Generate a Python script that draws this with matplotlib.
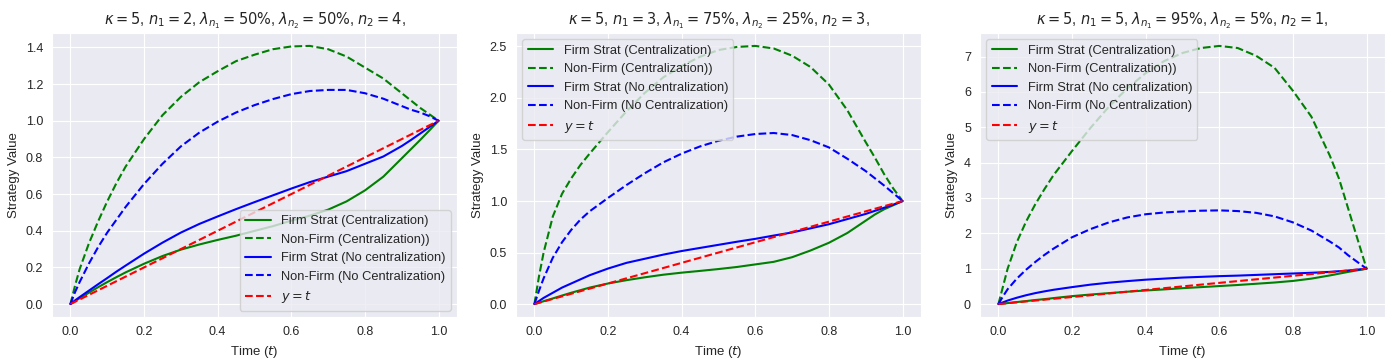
import matplotlib
matplotlib.use("Agg")
import matplotlib.pyplot as plt
import seaborn as sns

sns.set_style("darkgrid")
plt.rcParams['font.family'] = ['Liberation Sans', 'DejaVu Sans']

t = [0.0, 0.0125, 0.025, 0.05, 0.075, 0.1, 0.125, 0.15, 0.2, 0.25, 0.3, 0.35, 0.4, 0.45,
     0.5, 0.55, 0.6, 0.65, 0.7, 0.75, 0.8, 0.85, 0.9, 0.925, 0.95, 0.975, 1.0]

titles = [
    r"$\kappa = 5$, $n_1 = 2$, $\lambda_{n_1} = 50\%$, $\lambda_{n_2} = 50\%$, $n_2 = 4$,",
    r"$\kappa = 5$, $n_1 = 3$, $\lambda_{n_1} = 75\%$, $\lambda_{n_2} = 25\%$, $n_2 = 3$,",
    r"$\kappa = 5$, $n_1 = 5$, $\lambda_{n_1} = 95\%$, $\lambda_{n_2} = 5\%$, $n_2 = 1$,",
]

# Panel 1
firm_c1 = [0.0, 0.016, 0.032, 0.062, 0.092, 0.12, 0.147, 0.173, 0.22, 0.262, 0.297, 0.325, 0.35, 0.373,
           0.399, 0.425, 0.455, 0.482, 0.515, 0.56, 0.62, 0.695, 0.795, 0.845, 0.895, 0.947, 1.0]
nonfirm_c1 = [0.0, 0.10, 0.19, 0.33, 0.45, 0.56, 0.66, 0.75, 0.90, 1.03, 1.13, 1.21, 1.27, 1.325,
              1.36, 1.39, 1.405, 1.408, 1.39, 1.35, 1.29, 1.23, 1.15, 1.11, 1.07, 1.035, 1.0]
firm_nc1 = [0.0, 0.02, 0.038, 0.073, 0.108, 0.142, 0.177, 0.21, 0.275, 0.335, 0.39, 0.437, 0.478, 0.518,
            0.556, 0.593, 0.63, 0.665, 0.695, 0.725, 0.765, 0.805, 0.862, 0.895, 0.93, 0.965, 1.0]
nonfirm_nc1 = [0.0, 0.065, 0.12, 0.22, 0.31, 0.39, 0.46, 0.53, 0.655, 0.765, 0.86, 0.935, 0.995, 1.045,
               1.085, 1.118, 1.145, 1.162, 1.168, 1.168, 1.15, 1.12, 1.08, 1.06, 1.045, 1.025, 1.0]

# Panel 2
firm_c2 = [0.0, 0.014, 0.028, 0.055, 0.083, 0.11, 0.135, 0.16, 0.2, 0.232, 0.26, 0.285, 0.305, 0.322,
           0.34, 0.36, 0.385, 0.41, 0.455, 0.52, 0.595, 0.69, 0.81, 0.87, 0.92, 0.96, 1.0]
nonfirm_c2 = [0.0, 0.27, 0.5, 0.85, 1.07, 1.22, 1.35, 1.46, 1.67, 1.87, 2.05, 2.2, 2.31, 2.40,
              2.465, 2.495, 2.505, 2.48, 2.41, 2.30, 2.13, 1.88, 1.57, 1.42, 1.26, 1.12, 1.0]
firm_nc2 = [0.0, 0.03, 0.06, 0.11, 0.16, 0.2, 0.24, 0.28, 0.345, 0.40, 0.44, 0.48, 0.515, 0.545,
            0.575, 0.605, 0.633, 0.665, 0.695, 0.735, 0.775, 0.825, 0.875, 0.905, 0.935, 0.965, 1.0]
nonfirm_nc2 = [0.0, 0.13, 0.25, 0.45, 0.60, 0.72, 0.82, 0.90, 1.03, 1.155, 1.27, 1.375, 1.46, 1.53,
               1.585, 1.625, 1.65, 1.66, 1.64, 1.59, 1.52, 1.41, 1.29, 1.22, 1.15, 1.075, 1.0]

# Panel 3
firm_c3 = [0.0, 0.014, 0.028, 0.058, 0.085, 0.115, 0.14, 0.17, 0.225, 0.27, 0.31, 0.35, 0.385, 0.415,
           0.45, 0.48, 0.51, 0.54, 0.575, 0.61, 0.655, 0.72, 0.81, 0.86, 0.91, 0.955, 1.0]
nonfirm_c3 = [0.0, 0.5, 1.0, 1.75, 2.33, 2.82, 3.25, 3.65, 4.33, 4.98, 5.58, 6.1, 6.53, 6.87,
              7.1, 7.24, 7.3, 7.24, 7.02, 6.68, 6.03, 5.3, 4.2, 3.55, 2.7, 1.85, 1.0]
firm_nc3 = [0.0, 0.05, 0.10, 0.18, 0.25, 0.31, 0.36, 0.405, 0.48, 0.55, 0.605, 0.65, 0.69, 0.72,
            0.75, 0.77, 0.79, 0.805, 0.825, 0.845, 0.865, 0.885, 0.91, 0.93, 0.95, 0.975, 1.0]
nonfirm_nc3 = [0.0, 0.22, 0.42, 0.72, 0.97, 1.19, 1.39, 1.57, 1.89, 2.12, 2.31, 2.45, 2.54, 2.59,
               2.62, 2.64, 2.65, 2.63, 2.58, 2.48, 2.31, 2.08, 1.77, 1.6, 1.38, 1.19, 1.0]

panels = [
    (firm_c1, nonfirm_c1, firm_nc1, nonfirm_nc1, [0.0, 0.2, 0.4, 0.6, 0.8, 1.0, 1.2, 1.4], "lower right"),
    (firm_c2, nonfirm_c2, firm_nc2, nonfirm_nc2, [0.0, 0.5, 1.0, 1.5, 2.0, 2.5], "upper left"),
    (firm_c3, nonfirm_c3, firm_nc3, nonfirm_nc3, [0, 1, 2, 3, 4, 5, 6, 7], "upper left"),
]

fig = plt.figure(figsize=(13.92, 3.6), dpi=100)
lefts = [52, 516, 980]
for i, (fc, nfc, fnc, nfnc, yt, loc) in enumerate(panels):
    ax = fig.add_axes([lefts[i] / 1392, 43 / 360, 405 / 1392, 284 / 360])
    ax.plot(t, fc, color='green', ls='-', lw=1.5, label='Firm Strat (Centralization)')
    ax.plot(t, nfc, color='green', ls='--', lw=1.5, label='Non-Firm (Centralization))')
    ax.plot(t, fnc, color='blue', ls='-', lw=1.5, label='Firm Strat (No centralization)')
    ax.plot(t, nfnc, color='blue', ls='--', lw=1.5, label='Non-Firm (No Centralization)')
    ax.plot(t, t, color='red', ls='--', lw=1.5, label=r'$y = t$')
    ax.set_yticks(yt)
    if i == 2:
        ax.set_yticklabels([str(v) for v in yt])
    ax.set_xticks([0.0, 0.2, 0.4, 0.6, 0.8, 1.0])
    ax.tick_params(labelsize=9, pad=3)
    ax.set_xlabel(r'Time ($t$)', fontsize=9.5)
    ax.set_ylabel('Strategy Value', fontsize=9.5)
    ax.set_title(titles[i], fontsize=10.5)
    ax.legend(loc=loc, fontsize=9.3)

fig.savefig('out.png', dpi=100)
